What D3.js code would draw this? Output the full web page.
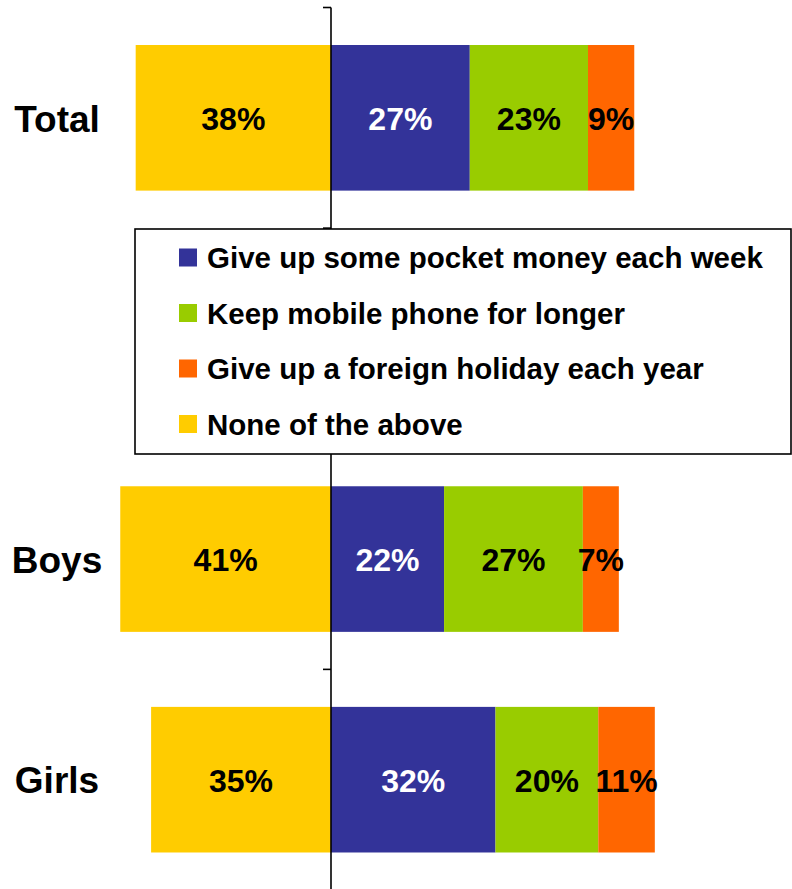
<!DOCTYPE html>
<html>
<head>
<meta charset="utf-8">
<script src="https://cdn.jsdelivr.net/npm/d3@7"></script>
<style>
  html, body { margin: 0; padding: 0; background: #fff; }
  svg { display: block; }
  text { font-family: "Liberation Sans", Arial, sans-serif; font-weight: bold; }
</style>
</head>
<body>
<script>
// Survey groups and the share (%) choosing each option
const categories = ["Total", "Boys", "Girls"];
const seriesNames = [
  "Give up some pocket money each week",
  "Keep mobile phone for longer",
  "Give up a foreign holiday each year",
  "None of the above"
];
const pocketMoney = [27, 22, 32];
const mobilePhone = [23, 27, 20];
const foreignHoliday = [9, 7, 11];
const noneOfAbove = [38, 41, 35];
const seriesColors = ["#333399", "#99CC00", "#FF6600", "#FFCC00"];

const W = 792, H = 889;
const svg = d3.select("body").append("svg").attr("width", W).attr("height", H);

// Row slots: an empty slot between Total and Boys holds the legend
const slots = ["Total", "__gap__", "Boys", "Girls"];
const y = d3.scaleBand().domain(slots).range([7.5, 890])
  .paddingInner(0.34).paddingOuter(0.17);

// Percent scale, zero line in the middle of the plot
const x = d3.scaleLinear().domain([0, 100]).range([331, 331 + 514]);

// Build segments: three options stack to the right, "None" goes left
const rightSeries = [pocketMoney, mobilePhone, foreignHoliday];
const segments = [];
categories.forEach((cat, i) => {
  let acc = 0;
  rightSeries.forEach((vals, s) => {
    segments.push({ cat, s, x0: acc, x1: acc + vals[i], v: vals[i] });
    acc += vals[i];
  });
  segments.push({ cat, s: 3, x0: -noneOfAbove[i], x1: 0, v: noneOfAbove[i] });
});

svg.append("g").selectAll("rect").data(segments).join("rect")
  .attr("x", d => x(d.x0))
  .attr("width", d => x(d.x1) - x(d.x0))
  .attr("y", d => y(d.cat))
  .attr("height", y.bandwidth())
  .attr("fill", d => seriesColors[d.s]);

// Value labels centred in each segment
svg.append("g").selectAll("text").data(segments).join("text")
  .attr("x", d => (x(d.x0) + x(d.x1)) / 2)
  .attr("y", d => y(d.cat) + y.bandwidth() / 2)
  .attr("dy", "0.38em")
  .attr("text-anchor", "middle")
  .attr("font-size", 32)
  .attr("fill", d => d.s === 0 ? "#fff" : "#000")
  .text(d => d.v + "%");

// Vertical category axis on the zero line
const step = y.step();
const tickYs = slots.map(s => y(s) - step * y.paddingInner() / 2);
tickYs.push(tickYs[tickYs.length - 1] + step);
const axis = svg.append("g");
axis.append("line")
  .attr("x1", x(0)).attr("x2", x(0))
  .attr("y1", tickYs[0]).attr("y2", H)
  .attr("stroke", "#000").attr("stroke-width", 1.6);
axis.selectAll("line.tick").data(tickYs).join("line").attr("class", "tick")
  .attr("x1", x(0) - 8).attr("x2", x(0))
  .attr("y1", d => d).attr("y2", d => d)
  .attr("stroke", "#000").attr("stroke-width", 1.6);

// Category labels
svg.append("g").selectAll("text").data(categories).join("text")
  .attr("x", 57)
  .attr("y", d => y(d) + y.bandwidth() / 2)
  .attr("dy", "0.37em")
  .attr("text-anchor", "middle")
  .attr("font-size", 37)
  .attr("fill", "#000")
  .text(d => d);

// Legend box in the empty slot
const lg = svg.append("g");
lg.append("rect")
  .attr("x", 135).attr("y", 229)
  .attr("width", 656).attr("height", 225)
  .attr("fill", "#fff").attr("stroke", "#000").attr("stroke-width", 1.6);
const rowY = d3.scalePoint().domain(seriesNames).range([257.5, 424]);
const items = lg.selectAll("g.item").data(seriesNames).join("g").attr("class", "item")
  .attr("transform", d => `translate(0,${rowY(d)})`);
items.append("rect")
  .attr("x", 179).attr("y", -9).attr("width", 18).attr("height", 18)
  .attr("fill", (d, i) => seriesColors[i]);
items.append("text")
  .attr("x", 207).attr("dy", "0.36em")
  .attr("font-size", 29.5)
  .attr("fill", "#000")
  .text(d => d);
</script>
</body>
</html>
